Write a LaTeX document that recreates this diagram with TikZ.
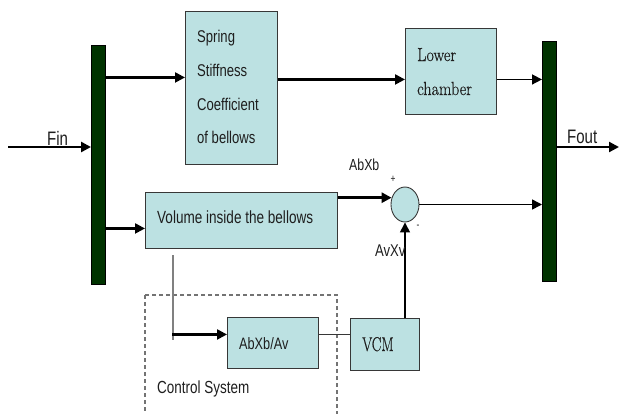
\documentclass[tikz,border=0pt]{standalone}
\usepackage{fontspec}
\setmainfont{Liberation Sans}
\newfontfamily\sansfn[FakeStretch=0.77]{Liberation Sans}
\newfontfamily\serfn[FakeStretch=0.85,FakeBold=0.4]{Latin Modern Roman}
\newfontfamily\serfnn[FakeStretch=0.72,FakeBold=0.4]{Latin Modern Roman}
\usetikzlibrary{arrows.meta,shapes.geometric}

\definecolor{boxfill}{RGB}{188,225,226}
\definecolor{barfill}{RGB}{0,51,0}
\definecolor{boxline}{RGB}{55,55,55}
\definecolor{txt}{RGB}{30,30,30}

\tikzset{
  block/.style={draw=boxline, line width=0.9pt, fill=boxfill, inner sep=0pt, anchor=north west},
  busbar/.style={draw=black, line width=0.4pt, fill=barfill, inner sep=0pt, anchor=north west, minimum width=14pt},
  lbl/.style={anchor=base west, inner sep=0pt, text=txt},
  sanslbl/.style={lbl, font=\sansfn\fontsize{#1}{#1}\selectfont},
  seriflbl/.style={lbl, font=\serfn\fontsize{#1}{#1}\selectfont},
  flow/.style={-{Triangle[length=10pt,width=10pt]}, line width=2.2pt},
  thinflow/.style={-{Triangle[length=10pt,width=10pt]}, line width=1.5pt},
  link/.style={line width=1pt, draw=boxline},
  tapline/.style={line width=1.3pt, draw=black!50},
  groupframe/.style={draw=black!55, line width=1.2pt, dash pattern=on 4pt off 3pt}
}

\begin{document}
\begin{tikzpicture}[x=1pt, y=-1pt]
  \useasboundingbox (0,0) rectangle (620,413);

  % force summing bars
  \node[busbar, minimum height=239pt] (lbar) at (91,45) {};
  \node[busbar, minimum height=240pt] (rbar) at (542,41) {};

  % blocks
  \node[block, minimum width=92pt, minimum height=153pt] (spring) at (185,11) {};
  \node[block, minimum width=91pt, minimum height=86pt] (lower) at (405,28) {};
  \node[block, minimum width=192pt, minimum height=56pt] (vol) at (145,192) {};
  \node[block, minimum width=91pt, minimum height=51pt] (ab) at (227,317) {};
  \node[block, minimum width=69pt, minimum height=52pt] (vcm) at (350,318) {};
  \node[ellipse, draw=boxline, line width=0.9pt, fill=boxfill, inner sep=0pt,
        minimum width=28pt, minimum height=35pt] (sum) at (405,204.5) {};

  % control system frame
  \draw[groupframe] (145,295) rectangle (337,420);

  % input and output forces
  \coordinate (fin) at (8,147);
  \coordinate (fout) at (619,147);
  \draw[flow, line width=2.6pt] (fin) -- (fin -| lbar.west);
  \draw[flow] (fout -| rbar.east) -- (fout);

  % upper branch
  \coordinate (sIn) at ([yshift=10.5pt]spring.west);
  \draw[flow] (sIn -| lbar.east) -- (sIn);
  \coordinate (lIn) at ([yshift=-8pt]lower.west);
  \coordinate (lOut) at ([yshift=-8pt]lower.east);
  \draw[flow] (lIn -| spring.east) -- (lIn);
  \draw[thinflow] (lOut) -- (lOut -| rbar.west);

  % lower branch
  \coordinate (vIn) at ([yshift=-8pt]vol.west);
  \draw[flow] (vIn -| lbar.east) -- (vIn);
  \coordinate (sumIn) at (sum.153);
  \draw[flow, line width=2.8pt] (vol.east |- sumIn) -- (sumIn);
  \draw[thinflow] (sum.east) -- (sum.east -| rbar.west);
  \draw[thinflow] (sum.south |- vcm.north) -- (sum.south);

  % control path
  \coordinate (tapTop) at (173,255);
  \coordinate (tapBot) at (173,340);
  \draw[tapline] (tapTop) -- (tapBot);
  \coordinate (abIn) at ([yshift=8.5pt]ab.west);
  \draw[flow] ([xshift=-1pt]abIn -| tapTop) -- (abIn);
  \coordinate (abOut) at ([yshift=8pt]ab.east);
  \draw[link] (abOut) -- (abOut -| vcm.west);

  % labels
  \node[sanslbl=19.5] (tFin) at (47,145) {Fin};
  \node[sanslbl=19.5] (tFout) at (567,143) {Fout};
  \node[sanslbl=17] (tS1) at (197,42) {Spring};
  \node[sanslbl=17] (tS2) at (197,76) {Stiffness};
  \node[sanslbl=17] (tS3) at (197,110) {Coefficient};
  \node[sanslbl=17] (tS4) at (197,143) {of bellows};
  \node[seriflbl=19] (tL1) at (417,61) {Lower};
  \node[seriflbl=19] (tL2) at (417,95) {chamber};
  \node[sanslbl=17.6] (tVol) at (157,223) {Volume inside the bellows};
  \node[sanslbl=16.5] (tAb) at (239,349) {AbXb/Av};
  \node[lbl, font=\serfnn\fontsize{20}{20}\selectfont] (tVcm) at (362,351) {VCM};
  \node[sanslbl=17.5] (tCtrl) at (157,393) {Control System};
  \node[sanslbl=16] (tAbXb) at (349,170) {AbXb};
  \node[sanslbl=17] (tAvXv) at (375,256) {AvXv};
  \node[inner sep=0pt, text=txt, font=\sansfn\fontsize{11}{11}\selectfont] (tPlus) at (393,179) {+};
  \node[inner sep=0pt, text=txt, font=\sansfn\fontsize{11}{11}\selectfont] (tMinus) at (418,227) {-};
\end{tikzpicture}
\end{document}
